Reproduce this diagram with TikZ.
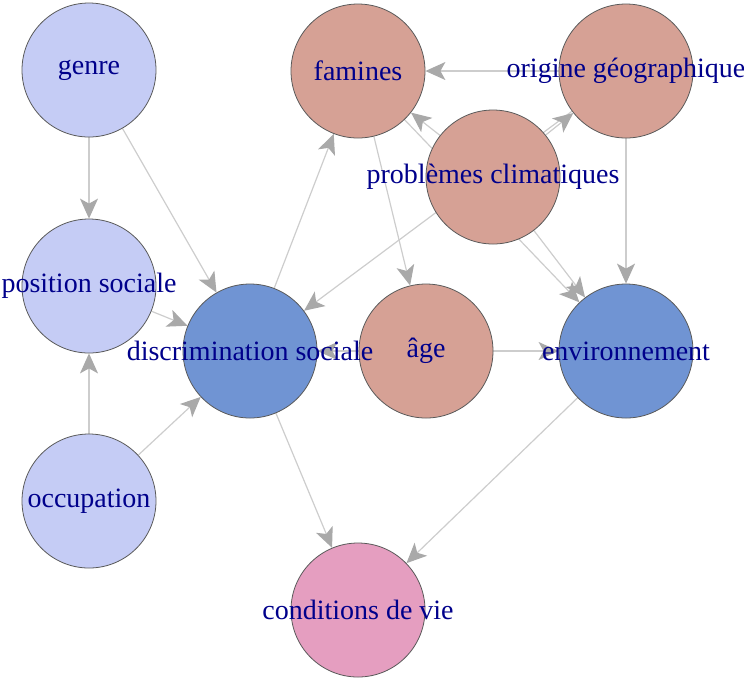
\documentclass[tikz,border=0pt]{standalone}
\usepackage{fontspec}
\setmainfont{Liberation Serif}
\usetikzlibrary{arrows.meta,backgrounds}
\definecolor{lavender}{RGB}{197,204,245}
\definecolor{steel}{RGB}{112,148,211}
\definecolor{salmon}{RGB}{214,161,149}
\definecolor{rose}{RGB}{229,158,192}
\definecolor{labelblue}{RGB}{0,0,139}
\definecolor{edgegray}{RGB}{205,205,205}
\definecolor{tipgray}{RGB}{169,169,169}

\begin{document}
\begin{tikzpicture}[x=0.5pt, y=-0.5pt,
    >={Stealth[length=10pt, width=9pt, inset=2.5pt, color=tipgray]},
    vertex/.style={circle, draw=black!65, line width=0.4pt, minimum size=67pt, inner sep=0pt},
    vlabel/.style={text=labelblue, font=\fontsize{14}{16}\selectfont, inner sep=0pt},
    link/.style={->, draw=edgegray, line width=0.6pt}]
    \useasboundingbox (0,0) rectangle (744,677);
    \node[vertex, fill=lavender] (genre) at (89,70) {};
    \node[vertex, fill=lavender] (position) at (89,286) {};
    \node[vertex, fill=lavender] (occupation) at (89,501) {};
    \node[vertex, fill=steel] (discr) at (250,351) {};
    \node[vertex, fill=salmon] (famines) at (358,71) {};
    \node[vertex, fill=salmon] (origine) at (626,71) {};
    \node[vertex, fill=salmon] (climat) at (493,177) {};
    \node[vertex, fill=salmon] (age) at (426,351) {};
    \node[vertex, fill=steel] (environnement) at (626,351) {};
    \node[vertex, fill=rose] (conditions) at (358,610) {};
    \foreach \n/\t in {genre/genre, position/position sociale, occupation/occupation,
        discr/discrimination sociale, famines/famines, origine/origine géographique,
        climat/problèmes climatiques, age/âge, environnement/environnement,
        conditions/conditions de vie}
        \node[vlabel] (\n-txt) at (\n) {\t};
    \begin{scope}[on background layer]
        \foreach \a/\b in {genre/position, genre/discr, occupation/position, occupation/discr,
            position/discr, discr/famines, discr/conditions, age/discr, age/environnement,
            famines/age, famines/environnement, origine/famines, origine/environnement,
            origine/discr, climat/origine, climat/famines, climat/environnement,
            environnement/conditions}
            \draw[link] (\a) -- (\b);
    \end{scope}
\end{tikzpicture}
\end{document}
